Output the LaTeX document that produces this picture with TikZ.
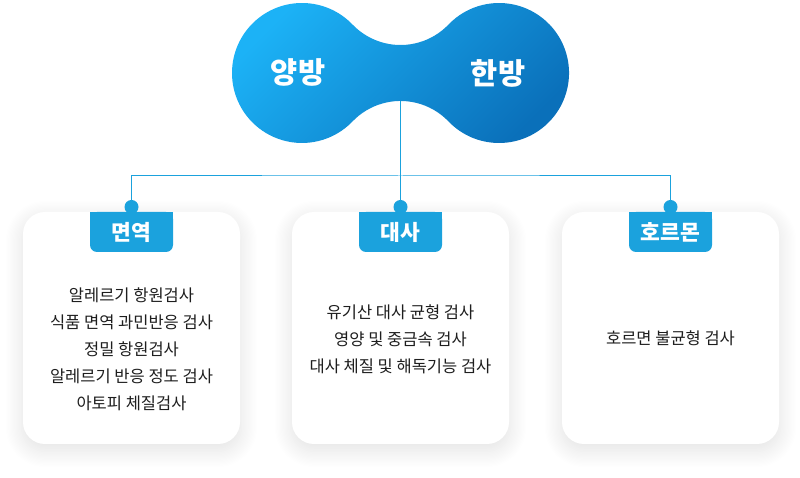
\documentclass[tikz,border=0pt]{standalone}
\usepackage{fontspec}
\setmainfont{Noto Sans CJK KR}
\usetikzlibrary{shadows.blur}
\definecolor{blobL}{RGB}{28,178,246}
\definecolor{blobD}{RGB}{10,112,186}
\definecolor{tabblue}{RGB}{27,162,221}
\definecolor{txt}{RGB}{30,30,30}
\tikzset{
  card/.style={fill=white, rounded corners=22pt, minimum width=217pt, minimum height=232pt, inner sep=0pt,
    blur shadow={shadow xshift=0pt, shadow yshift=-6pt, shadow blur radius=18pt, shadow blur steps=30, shadow opacity=12}},
  tabbox/.style={fill=tabblue, rounded corners=7pt, minimum width=83pt, minimum height=40pt, inner sep=0pt},
  tablabel/.style={text=white, inner sep=0pt, font=\fontsize{21.5}{21.5}\selectfont\bfseries},
  dotnode/.style={circle, fill=tabblue, minimum size=14pt, inner sep=0pt},
  conn/.style={draw=tabblue, line width=1pt},
  body/.style={align=center, text=txt, font=\fontsize{16.5}{27}\selectfont},
  blobtext/.style={text=white, font=\fontsize{29.5}{29.5}\selectfont\bfseries}
}
\begin{document}
\begin{tikzpicture}[x=1pt,y=1pt]
\useasboundingbox (0,0) rectangle (800,478);
% blob
\shade[top color=blobL, bottom color=blobD, shading angle=45]
  (302,405) ++(43.8:70) arc[start angle=43.8, end angle=316.2, radius=70]
  arc[start angle=136.2, end angle=43.8, radius=66.5]
  arc[start angle=223.8, end angle=496.2, radius=70]
  arc[start angle=316.2, end angle=223.8, radius=66.5] -- cycle;
\node[blobtext] (yang) at (298,405) {양방};
\node[blobtext] (han) at (498,405) {한방};
\coordinate (neck) at (400.5,377);
\coordinate (hub) at (400.5,302);
% cards
\node[card] (cardA) at (131.5,150) {};
\node[card] (cardB) at (400.5,150) {};
\node[card] (cardC) at (670.5,150) {};
% tabs
\foreach \n/\x in {A/131.5,B/400.5,C/670.5}{
  \node[tabbox] (tab\n) at (\x,246) {};
  \fill[tabblue] (tab\n.north west) rectangle ([yshift=-12pt]tab\n.north east);
}
\node[tablabel] (labA) at (tabA.center) {면역};
\node[tablabel] (labB) at (tabB.center) {대사};
\node[tablabel] (labC) at (tabC.center) {호르몬};
% dots
\node[dotnode] (dotA) at (131.5,271) {};
\node[dotnode] (dotB) at (400.5,271) {};
\node[dotnode] (dotC) at (670.5,271) {};
% connectors
\draw[conn] (neck) -- (hub);
\draw[conn] (dotA) |- (hub) -| (dotC);
\draw[conn] (hub) -- (dotB);
% texts
\node[body] (listA) at (131.5,129) {알레르기 항원검사\\식품 면역 과민반응 검사\\정밀 항원검사\\알레르기 반응 정도 검사\\아토피 체질검사};
\node[body] (listB) at (400.5,139) {유기산 대사 균형 검사\\영양 및 중금속 검사\\대사 체질 및 해독기능 검사};
\node[body] (listC) at (670.5,140) {호르면 불균형 검사};
\end{tikzpicture}
\end{document}
